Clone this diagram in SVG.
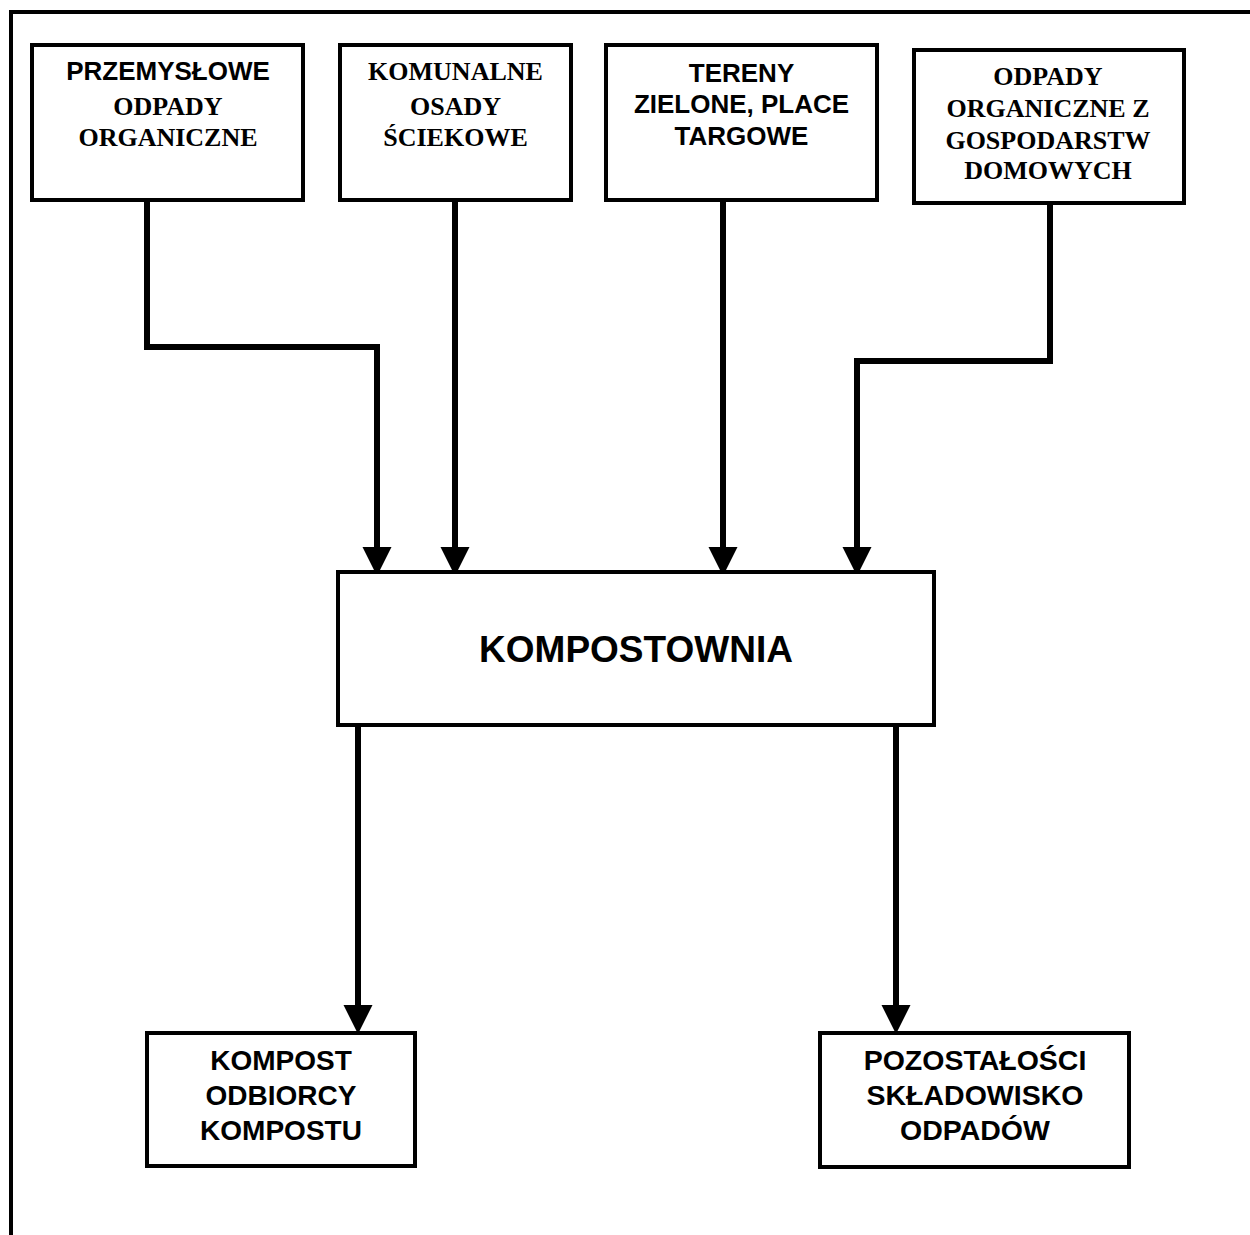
<svg xmlns="http://www.w3.org/2000/svg" width="1250" height="1235" viewBox="0 0 1250 1235">
<defs>
<style>
.box{fill:#fff;stroke:#000;stroke-width:4}
.frame{fill:none;stroke:#000;stroke-width:4}
.con{fill:none;stroke:#000;stroke-width:6;stroke-linejoin:miter}
.a{font-family:"Liberation Sans",Arial,sans-serif;font-weight:bold;fill:#000;text-anchor:middle}
.t{font-family:"Liberation Serif","Times New Roman",serif;font-weight:bold;fill:#000;text-anchor:middle}
</style>
<marker id="ah" markerUnits="userSpaceOnUse" markerWidth="30" markerHeight="30" refX="0" refY="14.5" orient="auto" viewBox="0 0 30 30">
<path d="M0,0 L29,14.5 L0,29 Z" fill="#000"/>
</marker>
</defs>
<rect width="1250" height="1235" fill="#fff"/>
<path class="frame" d="M11,1235 V12 H1250"/>

<g id="connectors">
<path class="con" d="M147,193 V347 H377 V547" marker-end="url(#ah)"/>
<path class="con" d="M455,193 V547" marker-end="url(#ah)"/>
<path class="con" d="M723,193 V547" marker-end="url(#ah)"/>
<path class="con" d="M1050,193 V361 H857 V547" marker-end="url(#ah)"/>
<path class="con" d="M358,727 V1005" marker-end="url(#ah)"/>
<path class="con" d="M896,727 V1005" marker-end="url(#ah)"/>
</g>

<g id="n1">
<rect class="box" x="32" y="45" width="271" height="155"/>
<text class="a" x="168" y="80" font-size="26">PRZEMYSŁOWE</text>
<text class="t" x="168" y="115" font-size="26">ODPADY</text>
<text class="t" x="168" y="146" font-size="26">ORGANICZNE</text>
</g>

<g id="n2">
<rect class="box" x="340" y="45" width="231" height="155"/>
<text class="t" x="455.5" y="80" font-size="26">KOMUNALNE</text>
<text class="t" x="455.5" y="115" font-size="26">OSADY</text>
<text class="t" x="455.5" y="146" font-size="26">ŚCIEKOWE</text>
</g>

<g id="n3">
<rect class="box" x="606" y="45" width="271" height="155"/>
<text class="a" x="741.5" y="82" font-size="26">TERENY</text>
<text class="a" x="741.5" y="113" font-size="26">ZIELONE, PLACE</text>
<text class="a" x="741.5" y="145" font-size="26">TARGOWE</text>
</g>

<g id="n4">
<rect class="box" x="914" y="50" width="270" height="153"/>
<text class="t" x="1048" y="85" font-size="26">ODPADY</text>
<text class="t" x="1048" y="117" font-size="26">ORGANICZNE Z</text>
<text class="t" x="1048" y="149" font-size="26">GOSPODARSTW</text>
<text class="t" x="1048" y="179" font-size="26">DOMOWYCH</text>
</g>

<g id="n5">
<rect class="box" x="338" y="572" width="596" height="153"/>
<text class="a" x="636" y="662" font-size="37">KOMPOSTOWNIA</text>
</g>

<g id="n6">
<rect class="box" x="147" y="1033" width="268" height="133"/>
<text class="a" x="281" y="1070" font-size="28">KOMPOST</text>
<text class="a" x="281" y="1105" font-size="28">ODBIORCY</text>
<text class="a" x="281" y="1140" font-size="28">KOMPOSTU</text>
</g>

<g id="n7">
<rect class="box" x="820" y="1033" width="309" height="134"/>
<text class="a" x="975" y="1070" font-size="28.5">POZOSTAŁOŚCI</text>
<text class="a" x="975" y="1105" font-size="28.5">SKŁADOWISKO</text>
<text class="a" x="975" y="1140" font-size="28.5">ODPADÓW</text>
</g>
</svg>
